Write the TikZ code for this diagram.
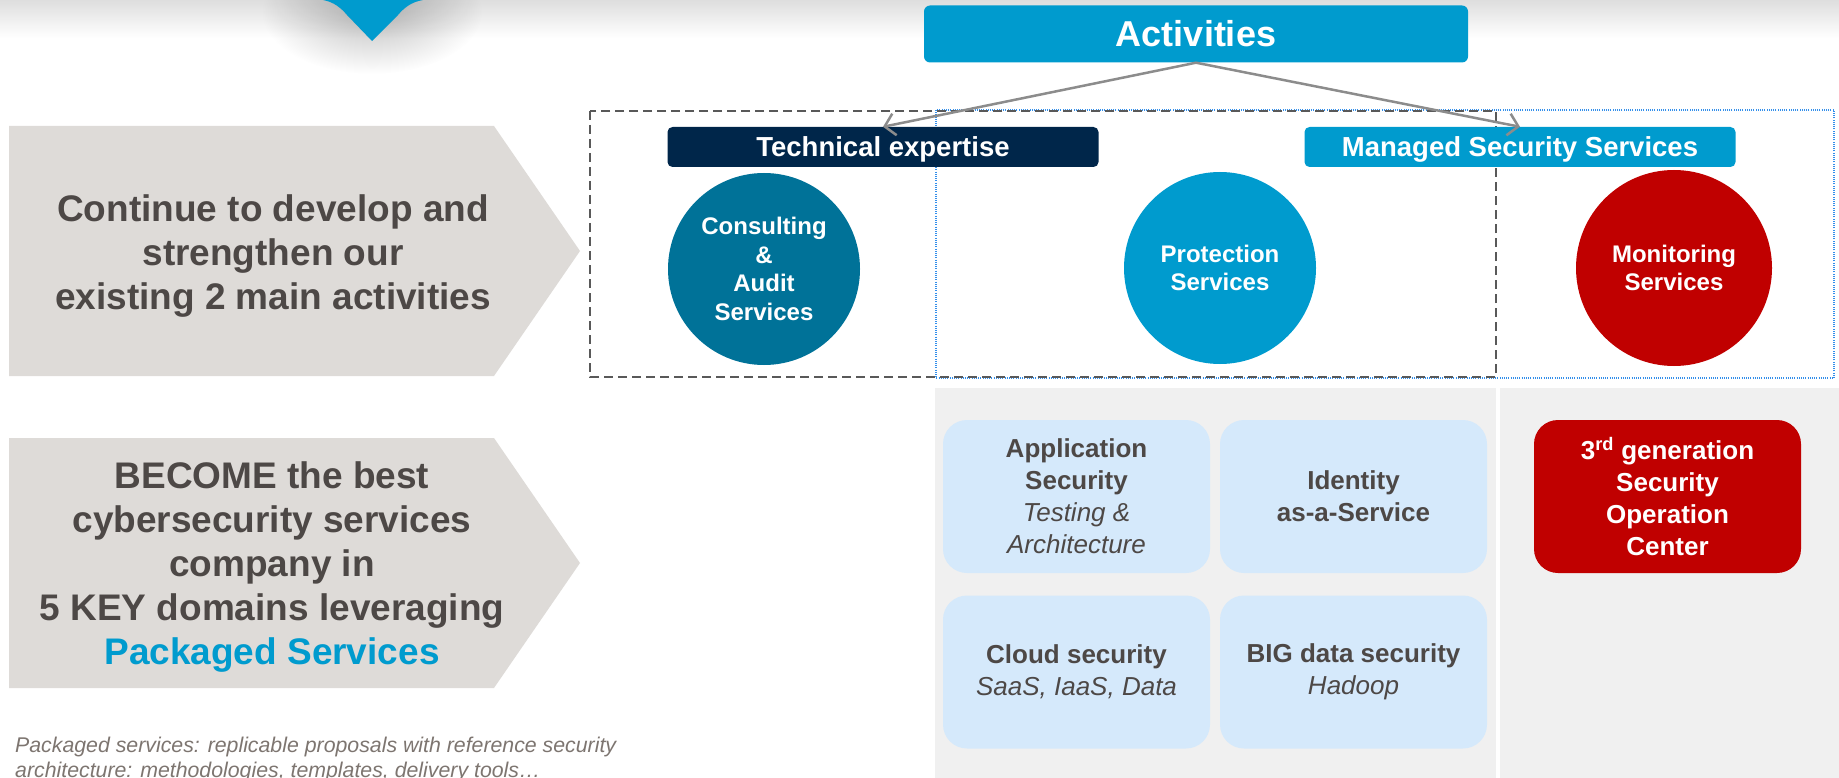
\documentclass[tikz,border=0pt]{standalone}
\usepackage{fontspec}
\setmainfont{Liberation Sans}
\usetikzlibrary{arrows.meta,fadings}
\definecolor{actblue}{RGB}{0,155,206}
\definecolor{navyblue}{RGB}{0,38,74}
\definecolor{consblue}{RGB}{0,114,152}
\definecolor{socred}{RGB}{192,0,0}
\definecolor{paleblue}{RGB}{213,233,251}
\definecolor{panelgray}{RGB}{240,240,240}
\definecolor{chevgray}{RGB}{222,219,216}
\definecolor{textgray}{RGB}{77,72,70}
\definecolor{notegray}{RGB}{125,117,112}
\definecolor{linkgray}{RGB}{140,140,140}
\definecolor{dotblue}{RGB}{51,143,235}
\tikzfading[name = halo, inner color = transparent!0, outer color = transparent!100]
\tikzset{
  actbox/.style = {fill = actblue, text = white, rounded corners = 6, minimum width = 544, minimum height = 57, font = \bfseries\fontsize{36}{40}\selectfont},
  barlabel/.style = {text = white, rounded corners = 5, minimum width = 431, minimum height = 40, inner sep = 0, text depth = 0, font = \bfseries\fontsize{27.5}{32}\selectfont},
  svcdisc/.style = {circle, text = white, minimum size = 192, inner sep = 0, align = center, font = \bfseries\fontsize{24}{28.5}\selectfont},
  svctile/.style = {fill = paleblue, text = textgray, rounded corners = 24, minimum width = 267, minimum height = 153, inner sep = 0, align = center, font = \bfseries\fontsize{26}{32}\selectfont},
  goaltext/.style = {text = textgray, align = center, font = \bfseries\fontsize{37}{44}\selectfont},
  footnote/.style = {text = notegray, align = left, inner sep = 0, font = \itshape\fontsize{21.3}{24.5}\selectfont},
  linkarrow/.style = {draw = linkgray, line width = 2.5, -{Straight Barb[length = 10pt, width = 22pt]}}
}
\begin{document}
\begin{tikzpicture}[x = 1pt, y = -1pt]
\useasboundingbox (0,0) rectangle (1839,778);
\shade[top color = black!13, bottom color = white] (0,0) rectangle (1839,38);
\fill[black, opacity = 0.25, path fading = halo] (372,12) ellipse [x radius = 110, y radius = 62];
\fill[actblue] (323,0) .. controls (334,2) and (341,8) .. (347,15) -- (372,41) -- (398,15) .. controls (404,8) and (411,2) .. (423,0) -- cycle;
\foreach \y in {126,438} \fill[chevgray] (9,\y) -- (494,\y) -- (580,\y+125) -- (494,\y+250) -- (9,\y+250) -- cycle;
\fill[panelgray] (935,388) rectangle (1496,778);
\fill[panelgray] (1500,388) rectangle (1839,778);
\draw[dotblue, line width = 1.2, dash pattern = on 1pt off 1.2pt] (936,110) rectangle (1834,378);
\draw[black!65, line width = 1.3, dash pattern = on 9pt off 5pt] (590,111) rectangle (1496,377);
\node[goaltext] (keep) at (273,256) {Continue to develop and\\strengthen our\\existing 2 main activities};
\node[goaltext] (become) at (272,567) {BECOME the best\\cybersecurity services\\company in\\5 KEY domains leveraging\\{\color{actblue}Packaged Services}};
\node[footnote, anchor = north west] (packnote) at (15,737) {Packaged services: replicable proposals with reference security\\architecture: methodologies, templates, delivery tools…};
\node[actbox] (act) at (1196,34) {Activities};
\node[barlabel, fill = navyblue] (tech) at (883,147) {Technical expertise};
\node[barlabel, fill = actblue] (mss) at (1520,147) {Managed Security Services};
\node[svcdisc, fill = consblue] (cons) at (764,269) {Consulting\\\&\\Audit\\Services};
\node[svcdisc, fill = actblue] (prot) at (1220,268) {Protection\\Services};
\node[svcdisc, fill = socred, minimum size = 196] (mon) at (1674,268) {Monitoring\\Services};
\draw[linkarrow] (act.south) -- (tech.north);
\draw[linkarrow] (act.south) -- (mss.north);
\node[svctile] (appsec) at (1076.5,496.5) {Application\\Security\\{\mdseries\itshape Testing \&}\\{\mdseries\itshape Architecture}};
\node[svctile] (idaas) at (1353.5,496.5) {Identity\\as-a-Service};
\node[svctile] (cloud) at (1076.5,672) {Cloud security\\{\mdseries\itshape SaaS, IaaS, Data}};
\node[svctile] (bigdata) at (1353.5,672) {BIG data security\\{\mdseries\itshape Hadoop}};
\node[svctile, fill = socred, text = white] (soc) at (1667.5,496.5) {3\textsuperscript{rd} generation\\Security\\Operation\\Center};
\end{tikzpicture}
\end{document}
